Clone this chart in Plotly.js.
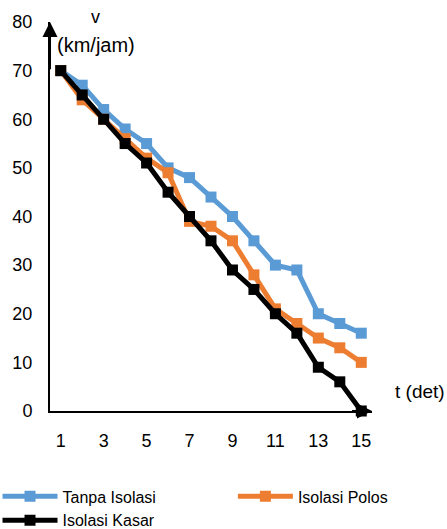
<!DOCTYPE html>
<html><head><meta charset="utf-8">
<script src="https://cdn.plot.ly/plotly-3.0.1.min.js"></script>
<style>html,body{margin:0;padding:0;background:#fff}#chart{width:447px;height:529px}</style>
</head><body><div id="chart"></div>
<script>
const t = [1,2,3,4,5,6,7,8,9,10,11,12,13,14,15];
const tanpaIsolasi = [70,67,62,58,55,50,48,44,40,35,30,29,20,18,16];
const isolasiPolos = [70,64,60,56,52,49,39,38,35,28,21,18,15,13,10];
const isolasiKasar = [70,65,60,55,51,45,40,35,29,25,20,16,9,6,0];
const xTicks = [1,3,5,7,9,11,13,15];
const yTicks = [0,10,20,30,40,50,60,70,80];
const seriesNames = ['Tanpa Isolasi','Isolasi Polos','Isolasi Kasar'];
const colors = ['#5B9BD5','#ED7D31','#000000'];
const legendOf = ['legend','legend2','legend'];
const font = 'Liberation Sans, Arial, sans-serif';

function tr(y, i){
  return {x:t, y:y, name:seriesNames[i], type:'scatter', mode:'lines+markers',
    line:{color:colors[i], width:5}, marker:{symbol:'square', size:11, color:colors[i]},
    cliponaxis:false, legend:legendOf[i]};
}
const data = [tr(tanpaIsolasi,0), tr(isolasiPolos,1), tr(isolasiKasar,2)];

const legendBase = {orientation:'v', xanchor:'left', yanchor:'top', font:{size:16, family:font},
  tracegroupgap:0, itemwidth:55, bgcolor:'rgba(0,0,0,0)', traceorder:'normal'};

const layout = {
  width:447, height:529,
  margin:{l:50, r:75.4, t:22.4, b:118, pad:0, autoexpand:false},
  paper_bgcolor:'#fff', plot_bgcolor:'#fff',
  font:{family:font, size:18, color:'#000'},
  showlegend:true,
  legend:Object.assign({}, legendBase, {x:-0.163, y:-0.176}),
  legend2:Object.assign({}, legendBase, {x:0.568, y:-0.176}),
  xaxis:{range:[0.5,15.5], tickvals:xTicks, ticktext:xTicks.map(String),
    showgrid:false, zeroline:false, showline:true, linecolor:'#000', linewidth:2,
    ticks:'', ticklabelstandoff:12, tickfont:{size:18}},
  yaxis:{range:[0,80], tickvals:yTicks, showgrid:false, zeroline:false,
    showline:true, linecolor:'#000', linewidth:2, ticks:'', ticklabelstandoff:12, tickfont:{size:18}},
  annotations:[
    {xref:'x', yref:'y', x:0.5, y:80, axref:'x', ayref:'y', ax:0.5, ay:70,
     text:'', showarrow:true, arrowhead:2, arrowsize:1.5, arrowwidth:2, arrowcolor:'#000'},
    {xref:'x', yref:'y', x:15.5, y:0, axref:'x', ayref:'y', ax:14.5, ay:0,
     text:'', showarrow:true, arrowhead:2, arrowsize:1.5, arrowwidth:2, arrowcolor:'#000'},
    {xref:'paper', yref:'paper', x:0.14, y:0.982, xanchor:'center', yanchor:'bottom',
     text:'v', showarrow:false, font:{size:18}},
    {xref:'paper', yref:'paper', x:0.015, y:0.94, xanchor:'left', yanchor:'middle',
     text:'(km/jam)', showarrow:false, font:{size:20}},
    {xref:'paper', yref:'y', x:1.065, y:4, xanchor:'left', yanchor:'middle',
     text:'t (det)', showarrow:false, font:{size:19}}
  ]
};
Plotly.newPlot('chart', data, layout, {displayModeBar:false, staticPlot:true});
</script></body></html>
